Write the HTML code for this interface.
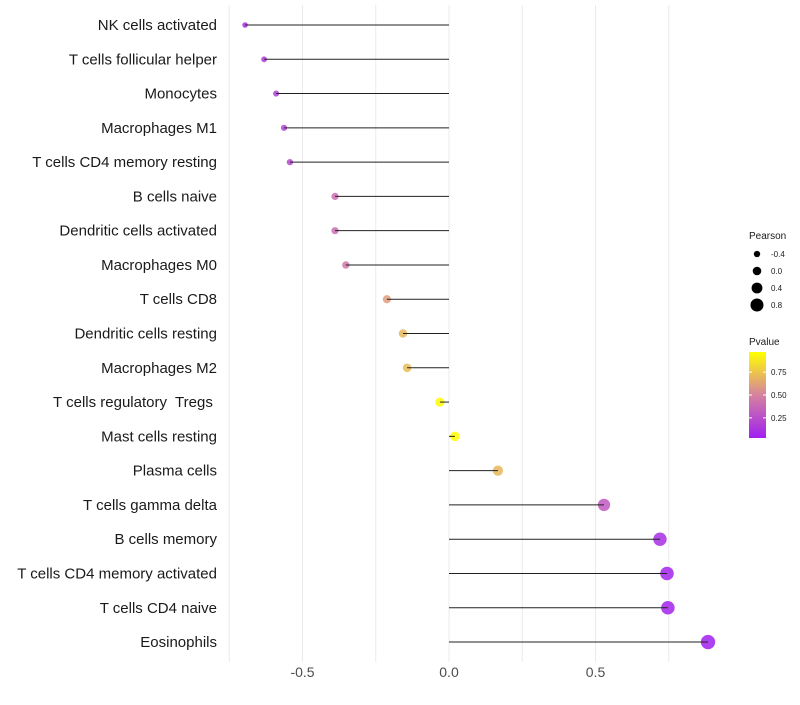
<!DOCTYPE html>
<html><head><meta charset="utf-8"><style>
body{margin:0;background:#fff;font-family:"Liberation Sans",sans-serif}
svg text{font-family:"Liberation Sans",sans-serif;white-space:pre}
</style></head><body>
<svg id="c" width="800" height="700"></svg>
<script>
const categories=["NK cells activated","T cells follicular helper","Monocytes","Macrophages M1","T cells CD4 memory resting","B cells naive","Dendritic cells activated","Macrophages M0","T cells CD8","Dendritic cells resting","Macrophages M2","T cells regulatory  Tregs ","Mast cells resting","Plasma cells","T cells gamma delta","B cells memory","T cells CD4 memory activated","T cells CD4 naive","Eosinophils"];
const pearson=[-0.696,-0.631,-0.590,-0.563,-0.543,-0.389,-0.389,-0.352,-0.212,-0.157,-0.143,-0.031,0.020,0.167,0.529,0.720,0.744,0.747,0.884];
const pvalue=[0.10,0.15,0.18,0.20,0.22,0.40,0.40,0.45,0.60,0.70,0.72,0.95,0.97,0.70,0.30,0.10,0.05,0.05,0.02];
const xTicks=[-0.5,0,0.5];
const xTickLabels=["-0.5","0.0","0.5"];
const sizeLegend=[-0.4,0.0,0.4,0.8];
const colorTicks=[0.25,0.5,0.75];
const NS="http://www.w3.org/2000/svg";
const svg=document.getElementById('c');
function mk(t,a,p){const e=document.createElementNS(NS,t);for(const k in a)e.setAttribute(k,a[k]);(p||svg).appendChild(e);return e;}
const x=v=>449+v*293;
const y=i=>25+i*34.28;
const r=p=>4.7+2.8*p;
function col(p){const t=Math.max(0,Math.min(1,(p-0.03)/0.94));const a=[160,32,240],m=[214,130,160],b=[255,255,0];let c;if(t<0.5){const u=t*2;c=a.map((v,i)=>Math.round(v+(m[i]-v)*u));}else{const u=(t-0.5)*2;c=m.map((v,i)=>Math.round(v+(b[i]-v)*u));}return `rgb(${c})`;}
[-0.75,-0.5,-0.25,0,0.25,0.5,0.75].forEach(v=>{const g=mk('line',{x1:x(v),x2:x(v),y1:5,y2:662,stroke:'#ebebeb','stroke-width':1});

});
categories.forEach((c,i)=>{
 const t=mk('text',{x:217,y:y(i)+5,'text-anchor':'end','font-size':15,fill:'#1a1a1a','xml:space':'preserve'});t.textContent=c;
 
 
 const d=mk('circle',{cx:x(pearson[i]),cy:y(i),r:r(pearson[i]),fill:col(pvalue[i]),'fill-opacity':0.85});
 
 
 const l=mk('line',{x1:x(0),x2:x(pearson[i]),y1:y(i),y2:y(i),stroke:'#222','stroke-width':1});
 
 
});
xTicks.forEach((v,i)=>{const t=mk('text',{x:x(v),y:677,'text-anchor':'middle','font-size':14,fill:'#4d4d4d'});t.textContent=xTickLabels[i];

});
const lt=mk('text',{x:749,y:239,'font-size':10,fill:'#1a1a1a'});lt.textContent='Pearson';


sizeLegend.forEach((v,i)=>{const cy=254+i*17;
 const c=mk('circle',{cx:757,cy:cy,r:r(v)-0.4,fill:'#000'});
 
 
 const t=mk('text',{x:771,y:cy+3,'font-size':8,fill:'#1a1a1a'});t.textContent=v.toFixed(1);
 
 });
const ct=mk('text',{x:749,y:345,'font-size':10,fill:'#1a1a1a'});ct.textContent='Pvalue';


const defs=mk('defs',{});const lg=mk('linearGradient',{id:'g',x1:0,y1:1,x2:0,y2:0},defs);
for(let k=0;k<=10;k++){mk('stop',{offset:k/10,'stop-color':col(0.03+0.94*k/10)},lg);}
const bar=mk('rect',{x:749,y:352,width:17,height:86,fill:'url(#g)'});


colorTicks.forEach(v=>{const cy=438-(v-0.03)/0.94*86;
 mk('line',{x1:749,x2:752,y1:cy,y2:cy,stroke:'#fff'});mk('line',{x1:763,x2:766,y1:cy,y2:cy,stroke:'#fff'});
 const t=mk('text',{x:771,y:cy+3,'font-size':8,fill:'#1a1a1a'});t.textContent=v.toFixed(2);
 
 });
</script>
</body></html>
